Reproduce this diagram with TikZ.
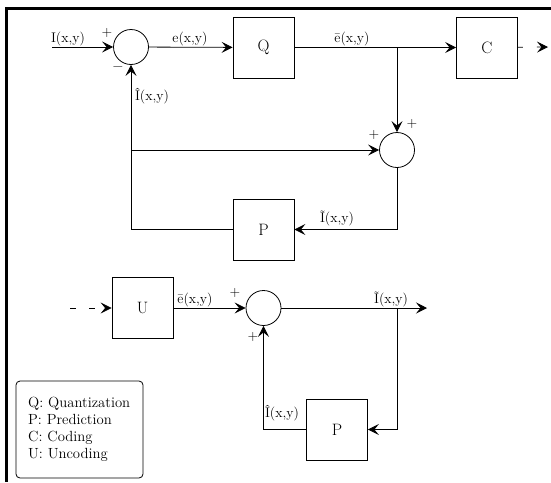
\documentclass[tikz,border=0pt]{standalone}
\usepackage{fontspec}
\usetikzlibrary{arrows.meta}
\begin{document}
\begin{tikzpicture}[x=1pt,y=-1pt,
  conn/.style={line width=0.8pt, draw=black},
  arr/.style={conn, -{Stealth[length=11pt,width=11pt,inset=4.5pt]}},
  blk/.style={draw, line width=0.8pt, minimum width=61pt, minimum height=61pt, inner sep=0pt, font=\fontsize{16.5}{18}\selectfont},
  sumnode/.style={draw, circle, line width=0.8pt, minimum size=35pt, inner sep=0pt},
  lbl/.style={font=\fontsize{14}{16}\selectfont, inner sep=0pt},
  sgn/.style={font=\fontsize{14}{16}\selectfont, inner sep=0pt},
  legtxt/.style={font=\fontsize{14.7}{17}\selectfont, inner sep=0pt, anchor=base west}]
\useasboundingbox (0,0) rectangle (551,482);
\draw[line width=3pt] (551,8) -- (6.5,8) -- (6.5,482);

% blocks
\node[sumnode] (s1) at (131,47) {};
\node[blk] (Q) at (263.5,47.5) {Q};
\node[blk] (C) at (487,47.5) {C};
\node[sumnode] (s2) at (397,150) {};
\node[blk] (P1) at (263.5,229.5) {P};
\node[blk] (U) at (142.5,308) {U};
\node[sumnode] (s3) at (263.5,308) {};
\node[blk] (P2) at (337,429.5) {P};

% free ends and junctions
\coordinate (in) at (52,47);
\coordinate (j1) at (397,47);
\coordinate (j2) at (131,150);
\coordinate (out1) at (548,47);
\coordinate (uin) at (70,308);
\coordinate (j3) at (397,308);
\coordinate (out2) at (427,308);

% connectors
\draw[arr] (in) -- (s1);
\draw[arr] (s1) -- (Q);
\draw[arr] (Q) -- (C);
\draw[arr] (j1) -- (s2);
\draw[arr] (j2) -- (s2);
\draw[arr] (s2) |- (P1);
\draw[arr] (P1) -| (s1);
\draw[arr, dash pattern=on 5pt off 14pt] (C) -- (out1);
\draw[arr, dash pattern=on 6pt off 13pt] (uin) -- (U);
\draw[arr] (U) -- (s3);
\draw[arr] (s3) -- (out2);
\draw[arr] (j3) |- (P2);
\draw[arr] (P2) -| (s3);

% labels
\node[lbl] (lI) at (68,39) {I(x,y)};
\node[lbl] (le) at (190,39) {e(x,y)};
\node[lbl] (leb) at (352,39) {\={e}(x,y)};
\node[lbl] (lIh) at (152,96) {\^{I}(x,y)};
\node[lbl] (lIt) at (337,218) {\~{I}(x,y)};
\node[lbl] (leb2) at (195,300) {\={e}(x,y)};
\node[lbl] (lIt2) at (391,299) {\~{I}(x,y)};
\node[lbl] (lIh2) at (282,413) {\^{I}(x,y)};

% signs
\node[sgn] (p1) at (107,33) {+};
\node[sgn] (m1) at (118,69) {\textminus};
\node[sgn] (p2) at (412,124) {+};
\node[sgn] (p3) at (374,135) {+};
\node[sgn] (p4) at (235,293) {+};
\node[sgn] (p5) at (253,337) {+};

% legend
\draw[line width=0.8pt, rounded corners=4pt] (16,381) rectangle (143,478);
\node[legtxt] (lg1) at (28,407) {Q: Quantization};
\node[legtxt] (lg2) at (28,424) {P: Prediction};
\node[legtxt] (lg3) at (28,441) {C: Coding};
\node[legtxt] (lg4) at (28,458) {U: Uncoding};
\end{tikzpicture}
\end{document}
